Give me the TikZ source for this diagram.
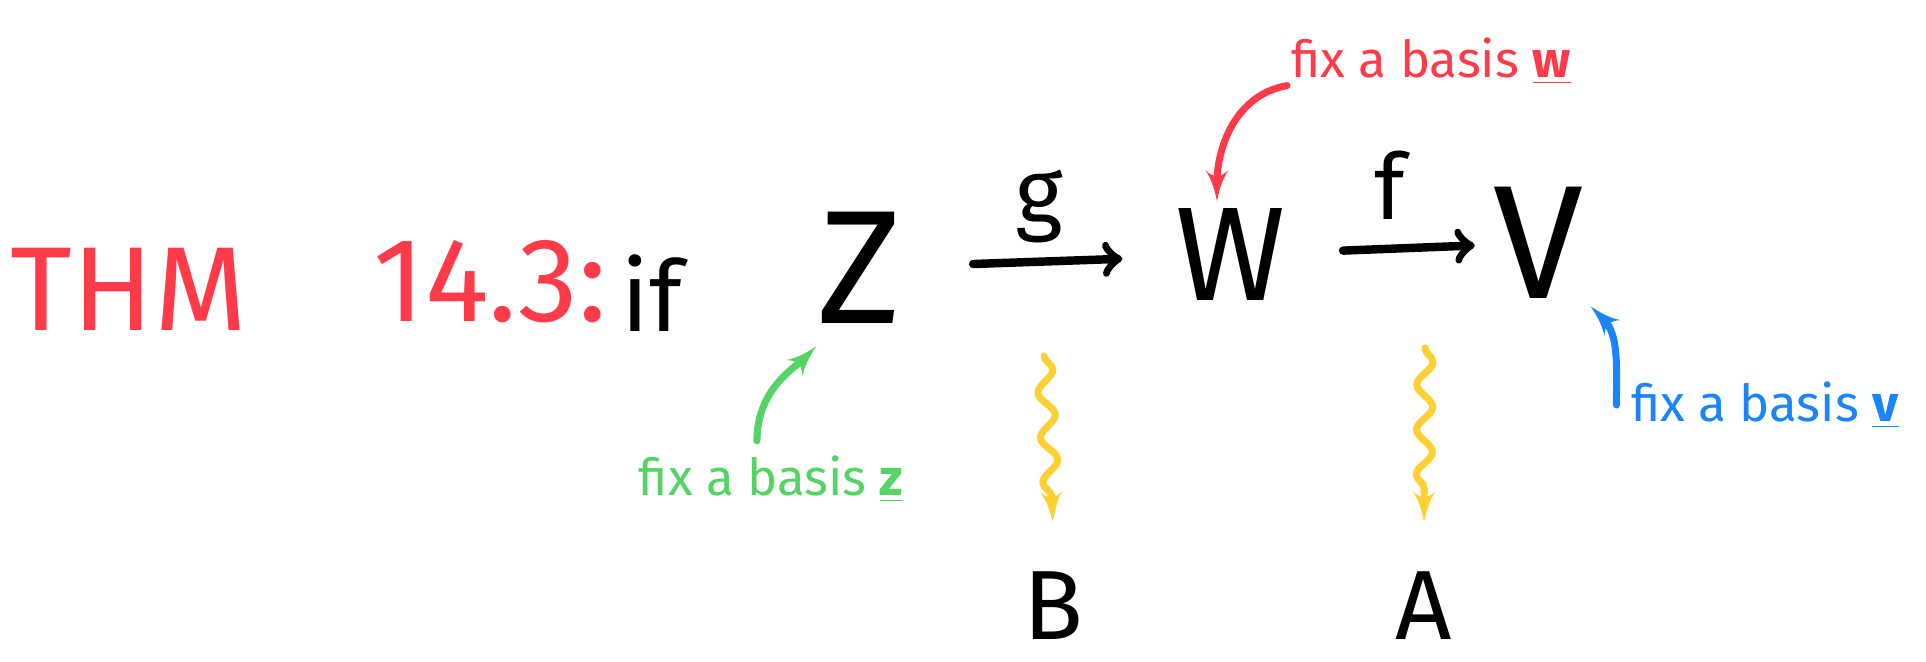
\documentclass[tikz,border=0pt]{standalone}
\usepackage{xcolor}
\usepackage{fontspec}
\setmainfont{Fira Sans}
\usetikzlibrary{arrows,positioning,decorations.pathmorphing}

\definecolor{penred}{HTML}{FF3B4A}
\definecolor{pengreen}{HTML}{55D466}
\definecolor{penblue}{HTML}{1A84F8}
\definecolor{penyellow}{HTML}{FFD034}

\begin{document}
\begin{tikzpicture}[>=latex', line cap=round]
    % Styles
    \tikzstyle{space} = [font=\fontsize{46}{50}\selectfont, inner sep=2pt]
    \tikzstyle{basis} = [font=\fontsize{28}{32}\selectfont, inner sep=2pt]
    \tikzstyle{title} = [font=\fontsize{34}{38}\selectfont, penred, inner sep=0pt]
    \tikzstyle{label} = [font=\fontsize{26}{30}\selectfont, inner sep=0pt]
    \tikzstyle{note} = [font=\fontsize{14.5}{16}\selectfont, inner sep=1pt]
    \tikzstyle{map} = [draw, -to, line width=2.4pt]
    \tikzstyle{pointer} = [draw, -latex', line width=2pt]
    \tikzstyle{squig} = [draw, -latex', line width=2pt, penyellow, decorate,
        decoration={snake, amplitude=.8mm, segment length=4.5mm, post length=2.5mm}]

    \useasboundingbox (0,0) rectangle (19.26,6.62);

    % Nodes
    \node [title] (thm) at (1.29,3.73) {THM};
    \node [title] (num) at (4.90,3.80) {14.3:};
    \node [label, font=\fontsize{28}{32}\selectfont] (if) at (6.52,3.69) {if};
    \node [space] (Z) at (8.60,3.94) {Z};
    \node [space, font=\fontsize{38}{42}\selectfont] (W) at (12.31,4.07) {W};
    \node [space] (V) at (15.38,4.19) {V};
    \node [basis] (B) at (10.53,0.56) {B};
    \node [basis] (A) at (14.24,0.56) {A};
    \node [note, penred] (wnote) at (14.31,6.01) {fix a basis \underline{\textbf{w}}};
    \node [note, pengreen] (znote) at (7.71,1.83) {fix a basis \underline{\textbf{z}}};
    \node [note, penblue] (vnote) at (17.65,2.57) {fix a basis \underline{\textbf{v}}};
    \coordinate (gs) at (10.44,3.06);
    \coordinate (fs) at (14.25,3.14);

    % Paths
    \path [map, shorten <=18pt, shorten >=13pt] (Z) -- node [label, above=4pt] (g) {g} (W);
    \path [map, shorten <=14pt, shorten >=3pt] (W) -- node [label, above=7pt] (f) {f} (V);
    \path [squig] (gs) -- ([yshift=12pt]B.north);
    \path [squig] (fs) -- ([yshift=12pt]A.north);
    \path [pointer, penred] ([yshift=-7pt]wnote.west) to [out=190, in=90] ([xshift=-4pt]W.north);
    \path [pointer, pengreen, shorten >=6pt] ([xshift=-4pt, yshift=3pt]znote.north) to [out=90, in=225] ([xshift=6pt]Z.south west);
    \path [pointer, penblue] ([xshift=-3pt]vnote.west) to [out=90, in=-45] (V.south east);
\end{tikzpicture}
\end{document}
